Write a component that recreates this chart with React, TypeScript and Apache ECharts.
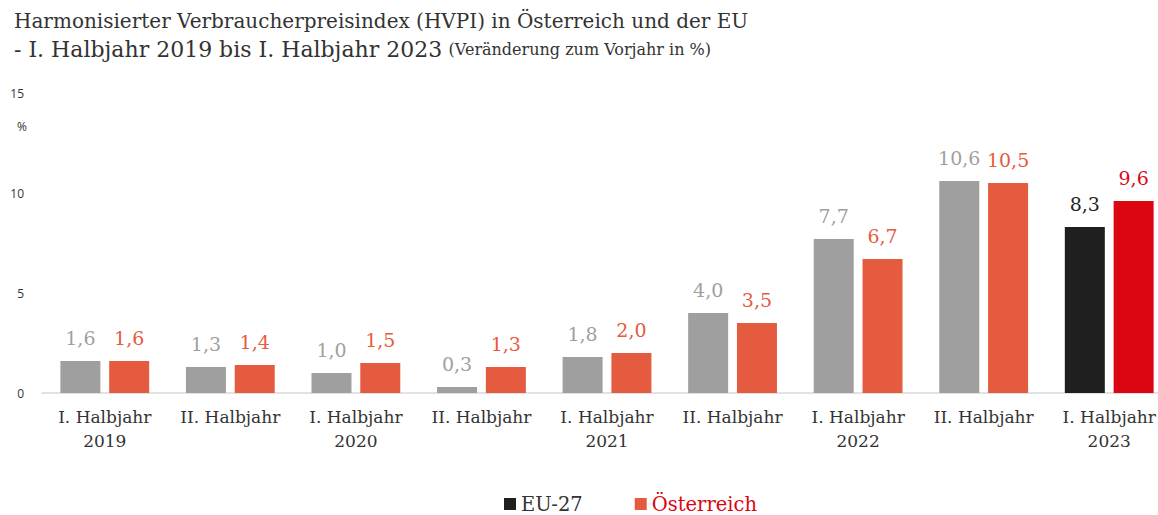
import React, { useEffect, useRef } from "react";
import * as echarts from "echarts";

const categories = [
  "I. Halbjahr\n2019",
  "II. Halbjahr",
  "I. Halbjahr\n2020",
  "II. Halbjahr",
  "I. Halbjahr\n2021",
  "II. Halbjahr",
  "I. Halbjahr\n2022",
  "II. Halbjahr",
  "I. Halbjahr\n2023",
];
const eu27 = [1.6, 1.3, 1.0, 0.3, 1.8, 4.0, 7.7, 10.6, 8.3];
const oesterreich = [1.6, 1.4, 1.5, 1.3, 2.0, 3.5, 6.7, 10.5, 9.6];
const yTicks = [0, 5, 10, 15];

const GRAY = "#9f9f9f";
const ORANGE = "#e55b3f";
const BLACK = "#1f1f1f";
const RED = "#dc0612";
const SERIF = "DejaVu Serif";

const fmt = (v: number) => v.toFixed(1).replace(".", ",");

export default function App() {
  const ref = useRef<HTMLDivElement>(null);
  useEffect(() => {
    if (!ref.current) return;
    const chart = echarts.init(ref.current, undefined, { renderer: "svg" });
    const last = categories.length - 1;
    const mk = (vals: number[], base: string, lastColor: string) =>
      vals.map((v, i) => ({
        value: v,
        itemStyle: { color: i === last ? lastColor : base },
        label: { color: i === last ? lastColor : base },
      }));
    chart.setOption({
      animation: false,
      title: {
        text: "Harmonisierter Verbraucherpreisindex (HVPI) in Österreich und der EU\n{a|- I. Halbjahr 2019 bis I. Halbjahr 2023} {b|(Veränderung zum Vorjahr in %)}",
        left: 9,
        top: 1,
        textStyle: {
          fontFamily: SERIF,
          fontSize: 20,
          fontWeight: "normal",
          color: "#333",
          lineHeight: 29,
          rich: {
            a: { fontFamily: SERIF, fontSize: 22, color: "#333", lineHeight: 29 },
            b: { fontFamily: SERIF, fontSize: 16, color: "#333", lineHeight: 29 },
          },
        },
      },
      legend: {
        top: 494,
        left: 504,
        padding: 0,
        itemWidth: 12,
        itemHeight: 12,
        itemGap: 52,
        icon: "rect",
        textStyle: { fontFamily: SERIF, fontSize: 19.5, lineHeight: 20 },
        data: [
          { name: "EU-27", itemStyle: { color: BLACK }, textStyle: { color: "#333" } },
          { name: "Österreich", itemStyle: { color: ORANGE }, textStyle: { color: RED } },
        ],
      },
      graphic: [
        {
          type: "text",
          left: 17,
          top: 120,
          style: { text: "%", fontFamily: "Open Sans", fontSize: 12, fill: "#333" },
        },
      ],
      grid: { left: 42, top: 93, bottom: 122, width: 1130 },
      xAxis: {
        type: "category",
        data: categories,
        axisTick: { show: false },
        axisLine: { lineStyle: { color: "#d9d9d9", width: 1.5 } },
        axisLabel: {
          fontFamily: SERIF,
          fontSize: 17,
          color: "#333",
          lineHeight: 24,
          margin: 12,
          interval: 0,
        },
      },
      yAxis: {
        type: "value",
        min: yTicks[0],
        max: yTicks[yTicks.length - 1],
        interval: 5,
        splitLine: { show: false },
        axisLine: { show: false },
        axisLabel: { fontFamily: "Open Sans", fontSize: 12, color: "#333", margin: 18 },
      },
      series: [
        {
          name: "EU-27",
          type: "bar",
          barWidth: 40,
          barGap: "22%",
          itemStyle: { color: GRAY },
          data: mk(eu27, GRAY, BLACK),
          label: {
            show: true,
            position: "top",
            distance: 14,
            fontFamily: SERIF,
            fontSize: 19,
            formatter: (p: any) => fmt(p.value),
          },
        },
        {
          name: "Österreich",
          type: "bar",
          barWidth: 40,
          barGap: "22%",
          itemStyle: { color: ORANGE },
          data: mk(oesterreich, ORANGE, RED),
          label: {
            show: true,
            position: "top",
            distance: 14,
            fontFamily: SERIF,
            fontSize: 19,
            formatter: (p: any) => fmt(p.value),
          },
        },
      ],
    });
    return () => chart.dispose();
  }, []);
  return (
    <div style={{ width: 1158, height: 515, position: "absolute", left: 0, top: 0, overflow: "hidden" }}>
      <div ref={ref} style={{ width: 1174, height: 515, position: "absolute", left: 0, top: 0 }} />
    </div>
  );
}
